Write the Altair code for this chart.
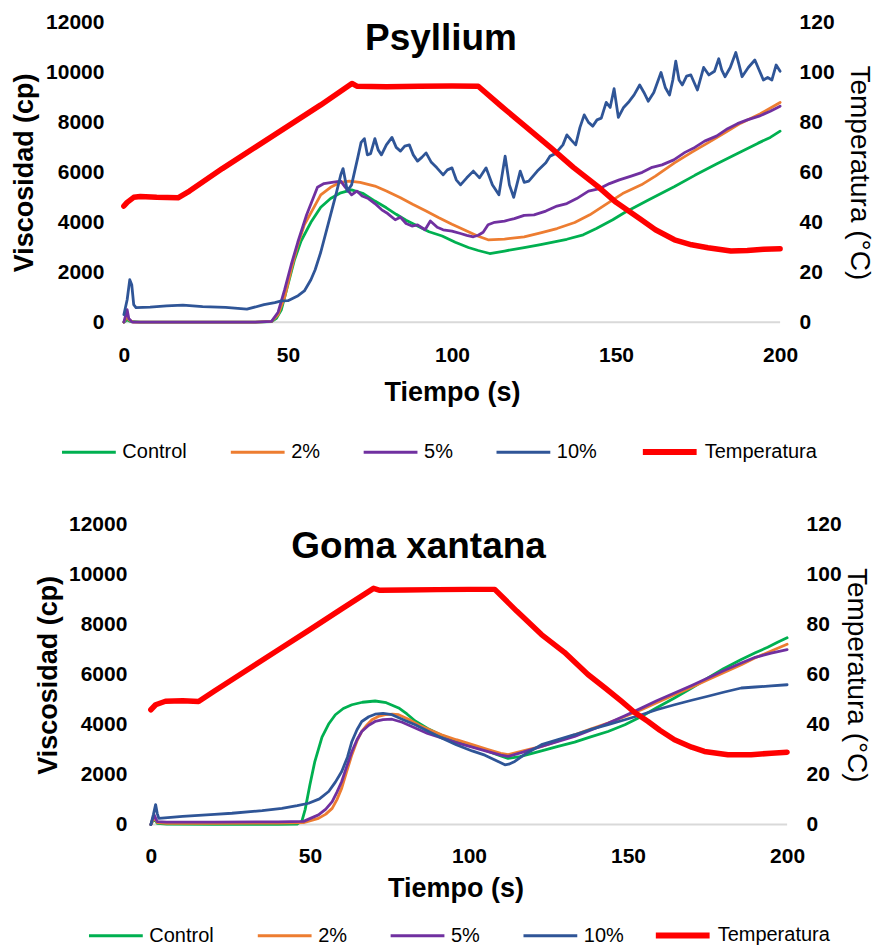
import altair as alt
import pandas as pd

FONT = "Liberation Sans"
VISC_SERIES = ["Control", "2%", "5%", "10%"]
VISC_COLORS = ["#00B050", "#ED7D31", "#7030A0", "#2F5597"]
TEMP_SERIES = ["Temperatura"]
TEMP_COLORS = ["#FF0000"]
X_TICKS = [0, 50, 100, 150, 200]
VISC_TICKS = [0, 2000, 4000, 6000, 8000, 10000, 12000]
TEMP_TICKS = [0, 20, 40, 60, 80, 100, 120]

# ---------------- Psyllium (time s, viscosity cp) ----------------
ps_control = [(0,0),(1,100),(2,30),(5,0),(20,0),(40,0),(45,20),(46.5,150),(48,500),(50,1500),(52,2500),(54,3250),(57,4000),(60,4600),(63,4950),(66.1,5180),(69.4,5300),(73,5150),(76.5,4850),(80,4580),(83,4320),(86,4080),(89.5,3850),(93,3620),(97,3450),(101,3200),(105,2990),(108,2870),(111.5,2750),(116,2850),(122,2990),(127,3110),(135,3320),(140,3500),(144,3750),(149,4100),(152.5,4380),(160,4900),(167.7,5420),(174,5880),(180.6,6330),(187,6750),(193.3,7170),(197,7400),(200,7650)]
ps_2 = [(0,0),(1,250),(1.5,100),(3,0),(20,0),(40,0),(45,30),(47,300),(49,1000),(51,2100),(53,3100),(55,3900),(57.5,4500),(60,5100),(63,5400),(66,5600),(68.7,5650),(72,5600),(76.5,5450),(80,5250),(84.3,4980),(88,4720),(92.1,4450),(96,4180),(100,3920),(104,3680),(107.8,3450),(111,3300),(116,3330),(122,3420),(127,3580),(132,3750),(137.4,3990),(142,4300),(147.6,4780),(152,5150),(157.7,5500),(162,5850),(167.8,6380),(173,6800),(178,7180),(183,7570),(188,7970),(194,8350),(200,8800)]
ps_5 = [(0,0),(1,500),(1.5,150),(2.5,0),(20,0),(40,0),(45,30),(47,400),(49,1300),(51,2300),(53,3200),(55.7,4300),(57.5,4900),(59,5400),(61,5550),(63.4,5600),(66.1,5650),(67.5,5400),(69.4,5100),(71,5250),(72.6,5050),(74.5,4950),(76.5,4750),(78.6,4500),(80.4,4350),(82.7,4100),(84.3,4200),(86,3950),(87.8,3850),(89.5,3900),(91.8,3700),(93.4,4050),(95.5,3800),(97.3,3700),(100,3650),(102.6,3550),(104.5,3480),(106.5,3420),(108,3480),(109.5,3600),(111,3900),(113,4000),(116,4050),(119,4150),(122,4280),(125,4300),(128.6,4450),(132,4650),(135,4750),(138,4950),(141.6,5250),(145,5350),(148,5550),(151,5700),(154.6,5850),(158,6000),(161,6200),(164,6300),(167.6,6500),(171,6800),(174,7000),(177,7250),(180.6,7450),(184,7750),(187,7950),(190,8100),(193.6,8250),(197,8450),(200,8650)]
ps_10 = [(0,300),(1,900),(1.8,1700),(2.4,1500),(3,700),(3.7,580),(8,600),(13,650),(18,680),(24,620),(31,590),(37.5,520),(42.7,700),(46,780),(48,850),(50,860),(53.1,1060),(55,1250),(57,1700),(58.3,2100),(60,2800),(62.2,3900),(64.8,5200),(66.1,5900),(66.8,6150),(67.6,5600),(68.1,5250),(69.4,5500),(71.3,6600),(72.3,7200),(73.3,7350),(74.2,6700),(75.2,6750),(76.5,7350),(77.5,6900),(78.5,6700),(80,7100),(81.7,7400),(83,7000),(84.3,6850),(85.6,7050),(87,7100),(88.2,6700),(89.5,6450),(90.8,6600),(92.1,6780),(93.7,6400),(95.4,6180),(97.3,5900),(98.6,6100),(100,6180),(101.3,5700),(102.6,5500),(104.5,5780),(106.5,6050),(108.4,5780),(110.4,6180),(112.3,5500),(114.3,5100),(116.2,6650),(117.5,5500),(118.8,5000),(120.8,6050),(122,5600),(123.4,5650),(124.7,5850),(126,6050),(128.6,6380),(129.9,6650),(131.5,6750),(133.8,7100),(135,7500),(136.3,7300),(137.7,7100),(139,7800),(140.3,8300),(141.6,8000),(142.9,7850),(144.2,8100),(145.5,8170),(147,8800),(148.2,8600),(149.4,9350),(150.7,8200),(152.3,8600),(154,8840),(155.5,9100),(157.2,9500),(158.5,9200),(159.8,8850),(161.5,9200),(163.7,10000),(165,9400),(166.3,9100),(167.3,9700),(168.2,10450),(169.2,9700),(170.2,9500),(171.5,9850),(172.8,9900),(173.8,9600),(174.8,9300),(176.7,10200),(178.3,9900),(180,10050),(181.3,10550),(182.2,10100),(183.2,9830),(184.8,10200),(186.5,10800),(187.5,10300),(188.4,9830),(190.3,10200),(192.3,10500),(193.6,10100),(194.9,9700),(196.2,9800),(197.5,9700),(198.8,10300),(200,10050)]
ps_temp = [(0,46.5),(1,48),(3,50),(5,50.3),(10,50),(16.5,49.8),(20,52.5),(30,61.5),(40,70),(50,78.5),(60,87),(69.5,95.6),(71,94.5),(80,94.3),(90,94.5),(100,94.6),(108,94.5),(115,86.5),(122,78.8),(130,70),(137,62),(144.5,54.3),(150,48),(157.7,41),(162,37),(167.8,33),(173,31),(178,29.8),(185,28.5),(190,28.7),(195,29.2),(200,29.4)]

# ---------------- Goma xantana ----------------
gx_control = [(0,0),(1,250),(2,50),(5,20),(20,10),(40,10),(46,20),(47.5,150),(48.5,600),(50,1600),(51.5,2500),(53.8,3500),(56,4050),(58,4400),(60.5,4650),(63.2,4800),(66.5,4900),(70.5,4950),(74,4880),(77.9,4670),(80.5,4430),(83.1,4150),(87,3850),(91,3600),(95,3400),(100,3200),(105,2980),(110,2750),(112.3,2650),(116,2720),(122.8,2950),(128,3130),(133.2,3300),(138,3500),(143.7,3730),(149,4000),(154.2,4330),(159,4680),(164.6,5070),(170,5470),(175.1,5870),(180,6240),(185.6,6610),(190,6880),(193.9,7100),(197,7300),(200,7480)]
gx_2 = [(0,0),(1,300),(2,80),(5,50),(20,50),(40,60),(48,80),(52.7,250),(55,420),(57,650),(58.5,1000),(60,1460),(61.5,2100),(63.2,2800),(64.8,3350),(66.3,3730),(68,4000),(69.5,4200),(71.5,4330),(73.7,4400),(76,4420),(77.9,4400),(81,4220),(84.1,4000),(88,3780),(91.4,3600),(96,3400),(100.8,3210),(106,3000),(110,2850),(112.3,2800),(117,2950),(122.8,3130),(128,3350),(133.2,3600),(138,3820),(143.7,4065),(149,4330),(154.2,4600),(159,4880),(164.6,5200),(170,5500),(175.1,5800),(180,6080),(185.6,6400),(190,6680),(195,6950),(200,7220)]
gx_5 = [(0,0),(1,400),(2,120),(5,100),(20,100),(40,110),(48,130),(52.7,390),(55,620),(57,920),(58.5,1300),(60,1725),(61.5,2300),(63.2,2930),(64.8,3400),(66.3,3730),(68.5,3980),(70.5,4130),(73,4200),(75.8,4220),(79,4100),(83.1,3870),(87,3650),(91.4,3470),(96,3280),(101,3100),(106,2920),(110,2780),(112.3,2730),(117,2900),(122.8,3130),(128,3330),(133.2,3530),(138,3770),(143.7,4060),(149,4360),(154.2,4665),(159,4960),(164.6,5270),(170,5570),(175.1,5870),(180,6160),(185.6,6470),(190,6700),(195,6870),(200,7010)]
gx_10 = [(0,0),(0.8,400),(1.5,800),(2,450),(2.5,250),(10,330),(20,410),(25.5,455),(35,560),(41.2,650),(46,760),(49.6,855),(53,1030),(55.9,1325),(58,1700),(60,2130),(61.8,2700),(63.2,3330),(64.8,3800),(66.3,4130),(68.5,4320),(70.5,4420),(73,4450),(75.8,4400),(79,4220),(83.1,4000),(87,3750),(91.4,3470),(96,3200),(101,2950),(105,2780),(108,2600),(111.3,2395),(112.5,2420),(114.4,2530),(118,2850),(122.8,3200),(128,3400),(133.2,3600),(138,3800),(143.7,4000),(149,4200),(154.2,4400),(159,4600),(164.6,4800),(170,4980),(175.1,5140),(180,5300),(185.6,5470),(190,5510),(195,5555),(200,5600)]
gx_temp = [(0,46),(1.5,48),(4.6,49.4),(10,49.6),(15,49.3),(20,53.5),(30,61.7),(40,69.9),(50,78.1),(60,86.4),(70,94.6),(72,93.8),(80,93.9),(90,94.1),(100,94.2),(108.1,94.2),(115,85.5),(122.8,76.1),(130,69),(137.4,60.1),(143,54.5),(147.9,49.4),(152,45),(156.3,41.3),(160,37.8),(164.6,34),(170,31),(174,29.3),(181.4,28),(188.7,28),(195,28.6),(200,29)]


def to_df(pairs, name):
    return pd.DataFrame({"t": [p[0] for p in pairs], "v": [p[1] for p in pairs], "serie": name})


def legend_params(x, y, stroke_width):
    return alt.Legend(orient="none", legendX=x, legendY=y, direction="horizontal", title=None,
                      symbolType="stroke", symbolSize=2900, symbolStrokeWidth=stroke_width,
                      labelFont=FONT, labelFontSize=20, labelColor="#000000", labelOffset=5,
                      columnPadding=37, padding=0, labelLimit=0)


def make_panel(title, visc_series, temp_pairs, width, xmin, c):
    visc = pd.concat([to_df(p, n) for n, p in visc_series], ignore_index=True)
    temp = to_df(temp_pairs, "Temperatura")
    base_df = pd.DataFrame({"t": [0], "t2": [200], "v": [0]})

    color = alt.Color("serie:N", scale=alt.Scale(domain=VISC_SERIES, range=VISC_COLORS),
                      legend=legend_params(c["legend_x"], c["legend_y"], 3))
    stroke = alt.Stroke("serie:N", scale=alt.Scale(domain=TEMP_SERIES, range=TEMP_COLORS),
                        legend=legend_params(c["tlegend_x"], c["legend_y"] - 1.5, 6))

    x_enc = alt.X("t:Q", scale=alt.Scale(domain=[xmin, 200], nice=False, zero=False),
                  axis=alt.Axis(values=X_TICKS, title="Tiempo (s)", grid=False, domain=False,
                                ticks=False, tickSize=0, labelFlush=False, format="d",
                                labelPadding=c["x_label_pad"],
                                titlePadding=c["x_title_pad"], labelFont=FONT, labelFontSize=21,
                                labelFontWeight="bold", labelColor="#000000", titleFont=FONT,
                                titleFontSize=27, titleFontWeight="bold", titleColor="#000000"))
    y_enc = alt.Y("v:Q", scale=alt.Scale(domain=[0, 12000], nice=False),
                  axis=alt.Axis(values=VISC_TICKS, title="Viscosidad (cp)", grid=False, domain=False,
                                ticks=False, tickSize=0, offset=c["y_offset"], format="d",
                                labelFlush=False,
                                labelPadding=c["y_label_pad"], titlePadding=c["y_title_pad"],
                                labelFont=FONT, labelFontSize=21, labelFontWeight="bold",
                                labelColor="#000000", titleFont=FONT, titleFontSize=27,
                                titleFontWeight="bold", titleColor="#000000"))
    t_enc = alt.Y("v:Q", scale=alt.Scale(domain=[0, 120], nice=False),
                  axis=alt.Axis(orient="right", values=TEMP_TICKS, title="Temperatura (°C)",
                                grid=False, domain=False, ticks=False, tickSize=0, format="d",
                                labelFlush=False,
                                labelPadding=c["r_label_pad"], titlePadding=c["r_title_pad"],
                                labelFont=FONT, labelFontSize=21, labelFontWeight="bold",
                                labelColor="#000000", titleFont=FONT, titleFontSize=28,
                                titleFontWeight="normal", titleColor="#000000"))

    baseline = alt.Chart(base_df).mark_rule(color="#D9D9D9", strokeWidth=2).encode(
        x=x_enc, x2=alt.X2("t2:Q"), y=y_enc)
    lines = alt.Chart(visc).mark_line(strokeWidth=2.8, strokeCap="round", strokeJoin="round").encode(
        x=x_enc, y=y_enc, color=color)
    temp_line = alt.Chart(temp).mark_line(strokeWidth=5.5, strokeCap="round", strokeJoin="round").encode(
        x=x_enc, y=t_enc, stroke=stroke)

    return alt.layer(alt.layer(baseline, lines), temp_line).resolve_scale(
        y="independent").properties(
        width=width, height=300,
        title=alt.TitleParams(title, anchor="middle", frame="group", dx=c["title_dx"],
                              dy=c["title_dy"], font=FONT, fontSize=37, fontWeight="bold",
                              color="#000000"))


top = make_panel("Psyllium",
                 [("Control", ps_control), ("2%", ps_2), ("5%", ps_5), ("10%", ps_10)],
                 ps_temp, 657, 0,
                 dict(y_offset=0, y_label_pad=20, y_title_pad=7, r_label_pad=19, r_title_pad=10,
                      x_label_pad=22, x_title_pad=14, title_dx=-11, title_dy=51,
                      legend_x=-63.5, tlegend_x=516.5, legend_y=401.5))
bottom = make_panel("Goma xantana",
                    [("Control", gx_control), ("2%", gx_2), ("5%", gx_5), ("10%", gx_10)],
                    gx_temp, 664, -8.48,
                    dict(y_offset=-27, y_label_pad=24, y_title_pad=6, r_label_pad=19, r_title_pad=0,
                         x_label_pad=21, x_title_pad=9, title_dx=-37, title_dy=56,
                         legend_x=-36.5, tlegend_x=529.5, legend_y=382.5))

chart = alt.vconcat(top, bottom, spacing=48).resolve_scale(
    color="independent", stroke="independent").properties(
    padding={"left": 2, "top": 2, "right": 5, "bottom": 0}, background="white"
).configure_view(stroke="transparent")

chart.save("out.html", embed_options={"renderer": "svg", "actions": False})
